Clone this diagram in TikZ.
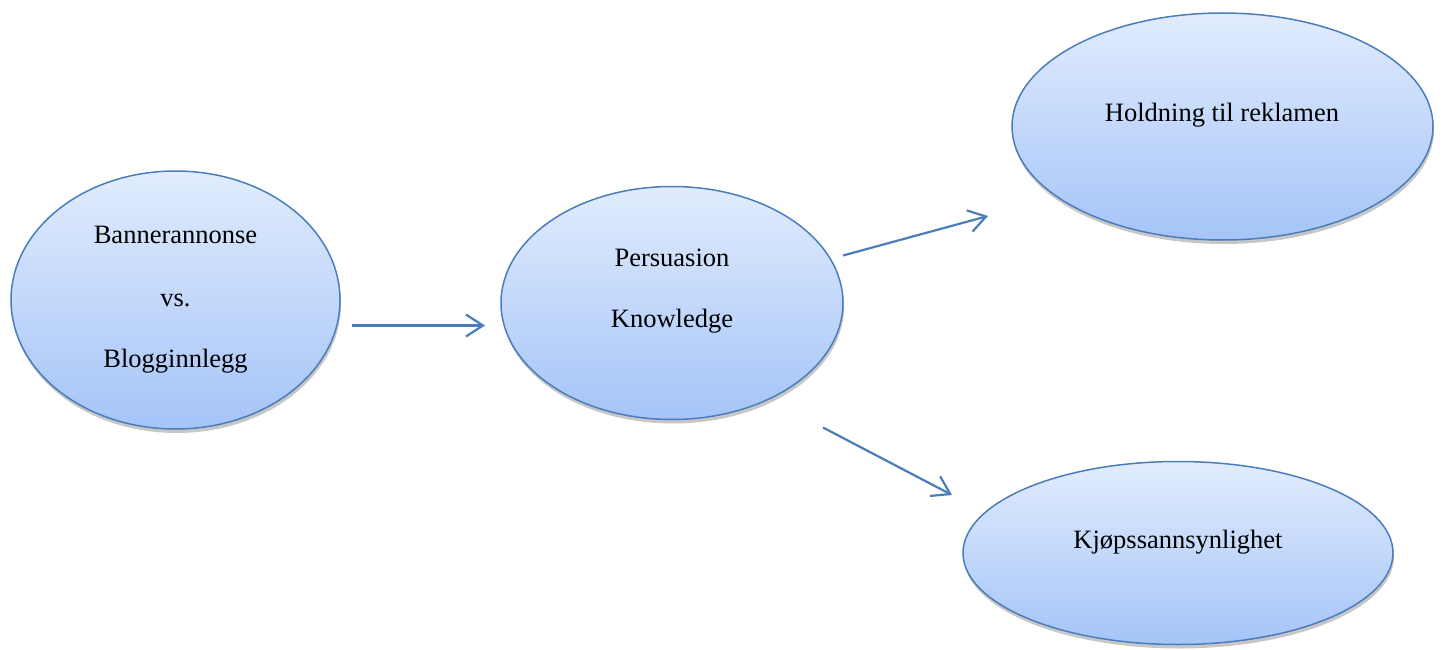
\documentclass[tikz,border=0pt]{standalone}
\usepackage{fontspec}
\setmainfont{Liberation Serif}
\usetikzlibrary{shapes.geometric,shadows,arrows.meta}
\definecolor{edgeblue}{HTML}{4A7EBB}
\definecolor{topfill}{HTML}{E1ECFD}
\definecolor{botfill}{HTML}{A5C4F8}
\tikzset{
  ell/.style={ellipse, draw=edgeblue, line width=1.5pt, top color=topfill, bottom color=botfill,
    inner sep=0pt, drop shadow={shadow xshift=1pt, shadow yshift=-4pt, opacity=0.22, fill=black}},
  lbl/.style={anchor=base, inner sep=0pt, font=\fontsize{26.5}{30}\selectfont},
  conn/.style={draw=edgeblue, line width=2.2pt, -{Straight Barb[length=17pt, width=22pt, line width=2.2pt]}}
}
\begin{document}
\begin{tikzpicture}[x=1pt,y=-1pt]
\useasboundingbox (0,0) rectangle (1443,650);
\node[ell, minimum width=329pt, minimum height=258pt] (e1) at (175.5,300) {};
\node[ell, minimum width=342pt, minimum height=233pt] (e2) at (672,303) {};
\node[ell, minimum width=421pt, minimum height=227pt] (e3) at (1222.5,126.5) {};
\node[ell, minimum width=430pt, minimum height=183pt] (e4) at (1178,553) {};
\node[lbl] (t1a) at (175.5,243) {Bannerannonse};
\node[lbl] (t1b) at (175.5,306) {vs.};
\node[lbl] (t1c) at (175.5,367) {Blogginnlegg};
\node[lbl] (t2a) at (672,266) {Persuasion};
\node[lbl] (t2b) at (672,327) {Knowledge};
\node[lbl] (t3) at (1222,122) {Holdning til reklamen};
\node[lbl] (t4) at (1178,548) {Kjøpssannsynlighet};
\coordinate (a1s) at (352,325.5);
\coordinate (a1e) at (485,325.5);
\coordinate (a2s) at (843,255.5);
\coordinate (a2e) at (988,216);
\coordinate (a3s) at (823,427.5);
\coordinate (a3e) at (952,495);
\draw[conn] (a1s) -- (a1e);
\draw[conn] (a2s) -- (a2e);
\draw[conn] (a3s) -- (a3e);
\end{tikzpicture}
\end{document}
